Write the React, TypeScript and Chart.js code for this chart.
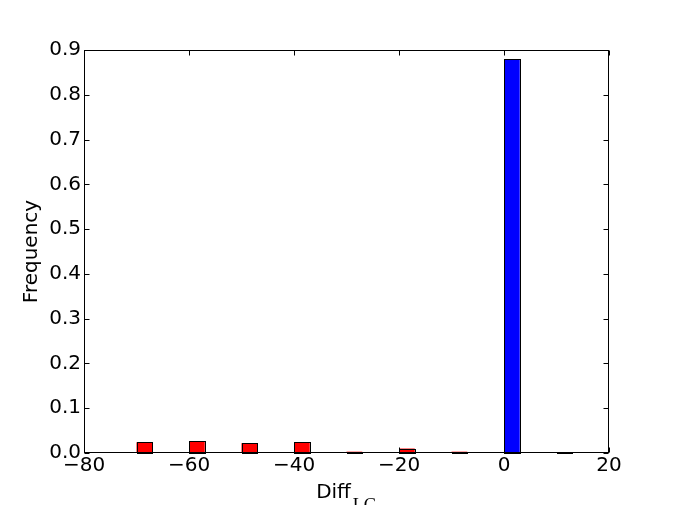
import React, { useEffect, useRef } from "react";
import { Chart, registerables } from "chart.js";

Chart.register(...registerables);

// Histogram bin left edges and frequencies
const binEdges = [-70, -60, -50, -40, -30, -20, -10, 0, 10];
const frequencies = [0.024, 0.026, 0.022, 0.024, 0.003, 0.01, 0.003, 0.88, 0.001];
const binWidth = 10;
const relativeBarWidth = 0.3;
const xTicks = [-80, -60, -40, -20, 0, 20];
const yTicks = [0, 0.1, 0.2, 0.3, 0.4, 0.5, 0.6, 0.7, 0.8, 0.9];

const FONT = "'DejaVu Sans', sans-serif";

// matplotlib-like centred edge stroke around each bar element
const barEdges = {
  id: "barEdges",
  afterDatasetsDraw(chart: any) {
    const { ctx } = chart;
    const meta = chart.getDatasetMeta(0);
    ctx.save();
    ctx.strokeStyle = "#000";
    ctx.lineWidth = 1;
    for (const el of meta.data) {
      const p = el.getProps(["x", "y", "base", "width"], true);
      const l = Math.round(p.x - p.width / 2) + 0.5;
      const r = Math.round(p.x + p.width / 2) + 0.5;
      const t = Math.round(p.y) + 0.5;
      const b = Math.round(p.base) + 0.5;
      ctx.strokeRect(l, Math.min(t, b - 1), r - l, Math.max(b - t, 1));
    }
    ctx.restore();
  },
};

const frame = {
  id: "mplFrame",
  afterDraw(chart: any) {
    const { ctx, chartArea: a, scales } = chart;
    const L = Math.round(a.left) + 0.5;
    const R = Math.round(a.right) - 0.5;
    const T = Math.round(a.top) + 0.5;
    const B = Math.round(a.bottom) - 0.5;
    ctx.save();
    ctx.strokeStyle = "#000";
    ctx.lineWidth = 1;
    ctx.strokeRect(L, T, R - L, B - T);
    const tl = 5;
    ctx.beginPath();
    for (const v of xTicks) {
      const px = Math.round(scales.x.getPixelForValue(v)) + 0.5;
      ctx.moveTo(px, B);
      ctx.lineTo(px, B - tl);
      ctx.moveTo(px, T);
      ctx.lineTo(px, T + tl);
    }
    for (const v of yTicks) {
      const py = Math.round(scales.y.getPixelForValue(v)) + 0.5;
      ctx.moveTo(L, py);
      ctx.lineTo(L + tl, py);
      ctx.moveTo(R, py);
      ctx.lineTo(R - tl, py);
    }
    ctx.stroke();

    // y title
    ctx.fillStyle = "#000";
    ctx.save();
    ctx.translate(37, (a.top + a.bottom) / 2);
    ctx.rotate(-Math.PI / 2);
    ctx.font = `20px ${FONT}`;
    ctx.textAlign = "center";
    ctx.textBaseline = "alphabetic";
    ctx.fillText("Frequency", 0, 0);
    ctx.restore();

    // x title with subscript
    ctx.font = `20px ${FONT}`;
    const main = "Diff";
    const mw = ctx.measureText(main).width;
    ctx.font = `18px 'Liberation Serif', serif`;
    const sub = "LG";
    const sw = ctx.measureText(sub).width;
    const total = mw + 2 + sw;
    const cx = (a.left + a.right) / 2;
    const x0 = cx - total / 2;
    ctx.textAlign = "left";
    ctx.textBaseline = "alphabetic";
    ctx.font = `20px ${FONT}`;
    ctx.fillText(main, x0, 498);
    ctx.font = `18px 'Liberation Serif', serif`;
    ctx.fillText(sub, x0 + mw + 2, 511);
    ctx.restore();
  },
};

export default function App() {
  const ref = useRef<HTMLCanvasElement | null>(null);

  useEffect(() => {
    document.body.style.margin = "0";
    const canvas = ref.current;
    if (!canvas) return;
    const data = binEdges.map((e, i) => ({
      x: e + (binWidth * relativeBarWidth) / 2,
      y: frequencies[i],
    }));
    const colors = binEdges.map((e) => (e < 0 ? "#ff0000" : "#0000ff"));
    const chart = new Chart(canvas, {
      type: "bar",
      data: {
        datasets: [
          {
            data,
            backgroundColor: colors,
            borderWidth: 0,
            categoryPercentage: 1,
            barPercentage: relativeBarWidth,
          } as any,
        ],
      },
      options: {
        animation: false,
        responsive: false,
        devicePixelRatio: 1,
        layout: { padding: { top: 50, right: 67, left: 0, bottom: 0 } },
        plugins: { legend: { display: false }, tooltip: { enabled: false } },
        scales: {
          x: {
            type: "linear",
            min: -80,
            max: 20,
            offset: false,
            grid: { display: false, drawTicks: false },
            border: { display: false },
            afterBuildTicks: (s: any) => {
              s.ticks = xTicks.map((v) => ({ value: v }));
            },
            afterFit: (s: any) => {
              s.height = 52;
            },
            ticks: {
              color: "#000",
              font: { family: FONT, size: 20 },
              padding: 1,
              maxRotation: 0,
              autoSkip: false,
              callback: (v: any) => (Number(v) < 0 ? "\u2212" + Math.abs(Number(v)) : String(v)),
            },
          },
          y: {
            type: "linear",
            min: 0,
            max: 0.9,
            grid: { display: false, drawTicks: false },
            border: { display: false },
            afterBuildTicks: (s: any) => {
              s.ticks = yTicks.map((v) => ({ value: v }));
            },
            afterFit: (s: any) => {
              s.width = 84;
            },
            ticks: {
              color: "#000",
              font: { family: FONT, size: 20 },
              padding: 3,
              autoSkip: false,
              callback: (v: any) => Number(v).toFixed(1),
            },
          },
        },
      },
      plugins: [barEdges, frame],
    });
    return () => chart.destroy();
  }, []);

  return (
    <div style={{ width: 676, height: 505, background: "#fff" }}>
      <canvas ref={ref} width={676} height={505} style={{ display: "block" }} />
    </div>
  );
}
